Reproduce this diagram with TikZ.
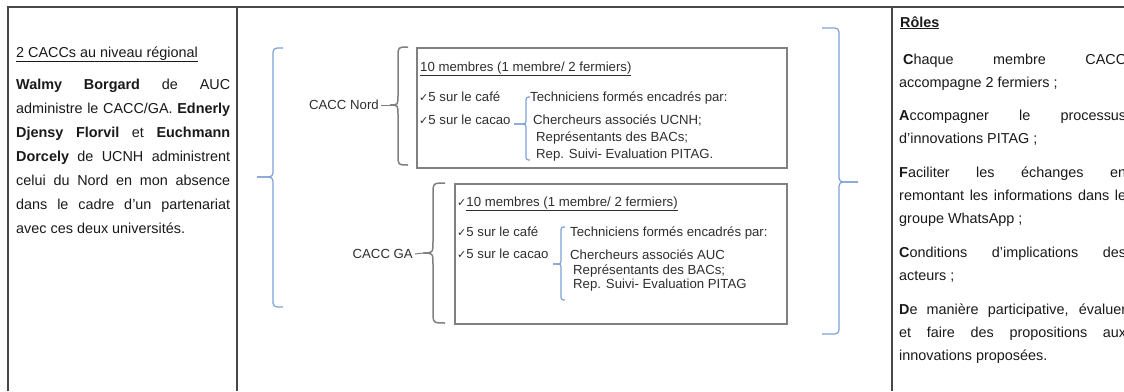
\documentclass[tikz,border=0pt]{standalone}
\usepackage{fontspec}
\setmainfont{Liberation Sans}
\newfontfamily\checkfont{DejaVu Sans}
\usepackage{xcolor}
\definecolor{bracegray}{RGB}{128,128,128}
\definecolor{braceblue}{RGB}{125,160,215}
\definecolor{rulegray}{RGB}{72,72,72}
\newcommand{\chk}{{\checkfont\fontsize{11}{11}\selectfont ✓}}

\begin{document}
\begin{tikzpicture}[x=1pt, y=-1pt,
	tablerule/.style={draw=rulegray, line width=1.2pt},
	cbox/.style={draw=bracegray, line width=1.5pt, anchor=north west, inner sep=0pt},
	gbrace/.style={draw=bracegray, line width=1.5pt},
	bbrace/.style={draw=braceblue, line width=1.2pt, rounded corners=4pt},
	txt/.style={anchor=base west, inner sep=0pt, text=black!82, font=\fontsize{13.2}{15}\selectfont},
	lbl/.style={anchor=east, inner sep=2pt, text=black!82, font=\fontsize{13.2}{15}\selectfont},
	head/.style={anchor=base west, inner sep=0pt, text=black!90, font=\fontsize{14.4}{24}\selectfont},
	para/.style={anchor=base west, inner sep=0pt, align=justify, text=black!90}]
	\useasboundingbox (0,0) rectangle (1124,391);
	% Table rules:
	\draw[tablerule] (8,391) -- (8,7) -- (1124,7);
	\draw[tablerule] (237,7) -- (237,391);
	\draw[tablerule] (892,7) -- (892,391);

	% Left column:
	\node[head] (leftHead) at (16,57) {\underline{2 CACCs au niveau régional}};
	\node[para, text width=214pt, font=\fontsize{14.4}{24}\selectfont] (who) at (16,89.5) {\tolerance=10000\hbadness=10000
		\textbf{Walmy Borgard} de AUC\linebreak administre le CACC/GA. \textbf{Ednerly}\linebreak
		\textbf{Djensy Florvil} et \textbf{Euchmann}\linebreak \textbf{Dorcely} de UCNH administrent\linebreak
		celui du Nord en mon absence\linebreak dans le cadre d’un partenariat\linebreak avec ces deux universités.};

	% Middle: big blue braces
	\draw[bbrace] (283,48) -- (273,48) -- (273,177) -- (257,177);
	\draw[bbrace] (257,177) -- (273,177) -- (273,307) -- (283,307);
	\draw[bbrace] (822,28) -- (839,28) -- (839,182) -- (858,182);
	\draw[bbrace] (858,182) -- (839,182) -- (839,334) -- (822,334);

	% CACC Nord
	\node[lbl] (nordLbl) at (381,105) {CACC Nord};
	\coordinate (nordTip) at (390,105);
	\draw[gbrace] (408,47) .. controls (398,47) .. (398,57) -- (398,95) .. controls (398,105) .. (nordTip)
		.. controls (398,105) .. (398,115) -- (398,155) .. controls (398,165) .. (408,165);
	\draw[gbrace, line width=1pt] (nordLbl.east) -- (nordTip);
	\node[cbox, minimum width=370pt, minimum height=120pt] (nordBox) at (416,47) {};
	\node[txt] (nordHead) at (420,71) {\underline{10 membres (1 membre/ 2 fermiers)}};
	\node[txt] (nordCafe) at (419,101) {\chk5 sur le café};
	\node[txt] (nordCacao) at (419,124) {\chk5 sur le cacao};
	\draw[bbrace, rounded corners=2.5pt] (530,97) -- (526,97) -- (526,124) -- (514,124);
	\draw[bbrace, rounded corners=2.5pt] (514,124) -- (526,124) -- (526,160) -- (530,160);
	\node[txt] (nordTech) at (530,101) {Techniciens formés encadrés par:};
	\node[txt] (nordChr) at (533,124) {Chercheurs associés UCNH;};
	\node[txt] (nordBac) at (536,141) {Représentants des BACs;};
	\node[txt] (nordRep) at (536,158) {Rep. Suivi- Evaluation PITAG.};

	% CACC GA
	\node[lbl] (gaLbl) at (415,254) {CACC GA};
	\coordinate (gaTip) at (423,253);
	\draw[gbrace] (445,183) .. controls (433,183) .. (433,195) -- (433,241) .. controls (433,253) .. (gaTip)
		.. controls (433,253) .. (433,265) -- (433,311) .. controls (433,323) .. (445,323);
	\draw[gbrace, line width=1pt] (gaLbl.east) -- (gaTip);
	\node[cbox, minimum width=332pt, minimum height=140pt] (gaBox) at (454,183) {};
	\node[txt] (gaHead) at (457,206) {\chk\underline{10 membres (1 membre/ 2 fermiers)}};
	\node[txt] (gaCafe) at (457,236) {\chk5 sur le café};
	\node[txt] (gaCacao) at (457,258) {\chk5 sur le cacao};
	\draw[bbrace, rounded corners=2.5pt] (565,227) -- (561,227) -- (561,264) -- (553,264);
	\draw[bbrace, rounded corners=2.5pt] (553,264) -- (561,264) -- (561,300) -- (565,300);
	\node[txt] (gaTech) at (570,236) {Techniciens formés encadrés par:};
	\node[txt] (gaChr) at (570,259) {Chercheurs associés AUC};
	\node[txt] (gaBac) at (573,274) {Représentants des BACs;};
	\node[txt] (gaRep) at (573,288) {Rep. Suivi- Evaluation PITAG};

	% Right column:
	\node[head, font=\fontsize{14.4}{24}\selectfont\bfseries] (roles) at (900,27) {\underline{Rôles}};
	\node[para, text width=227pt, font=\fontsize{14.4}{23.2}\selectfont] (roleList) at (899,64) {\tolerance=10000\hbadness=10000\setlength{\parskip}{10.3pt}%
		\hspace*{4pt}\textbf{C}haque membre CACC\linebreak accompagne 2 fermiers ;\par
		\textbf{A}ccompagner le processus\linebreak d’innovations PITAG ;\par
		\textbf{F}aciliter les échanges en\linebreak remontant les informations dans le\linebreak groupe WhatsApp ;\par
		\textbf{C}onditions d’implications des\linebreak acteurs ;\par
		\textbf{D}e manière participative, évaluer\linebreak et faire des propositions aux\linebreak innovations proposées.};
\end{tikzpicture}
\end{document}
